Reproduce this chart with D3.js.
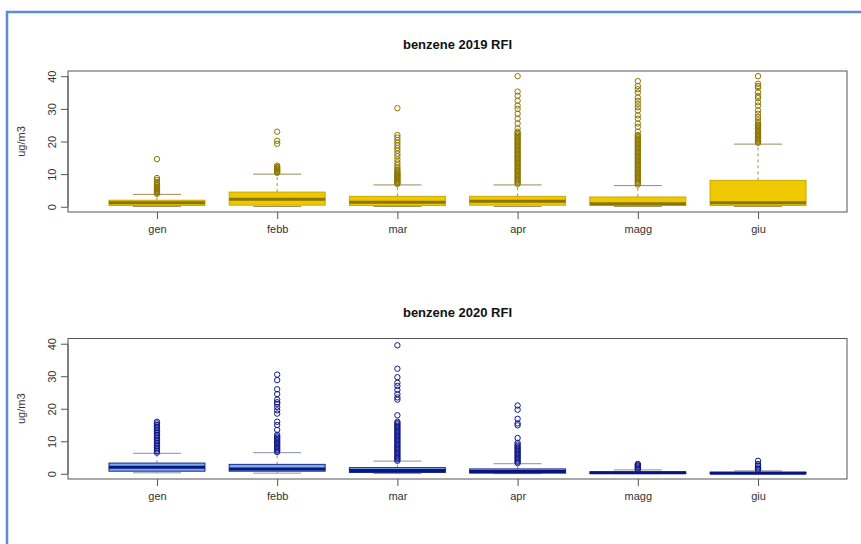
<!DOCTYPE html>
<html>
<head>
<meta charset="utf-8">
<script src="https://cdn.jsdelivr.net/npm/d3@7"></script>
<style>
  body { margin: 0; background: #fff; }
  svg { display: block; font-family: "Liberation Sans", Arial, sans-serif; }
  .axis text { fill: #333; font-size: 11px; }
  .axis path, .axis line { stroke: #555; }
</style>
</head>
<body>
<svg id="chart" width="861" height="544"></svg>
<script>
var months = ["gen", "febb", "mar", "apr", "magg", "giu"];
var yTicks = [0, 10, 20, 30, 40];

// 2019 box stats
var lo2019  = [0.1, 0.1, 0.1, 0.1, 0.1, 0.1];
var q1_2019 = [0.4, 0.5, 0.4, 0.5, 0.4, 0.4];
var med2019 = [1.2, 2.3, 1.4, 1.7, 0.9, 1.2];
var q3_2019 = [2.0, 4.5, 3.2, 3.2, 3.0, 8.1];
var hi2019  = [3.8, 10.0, 6.7, 6.7, 6.5, 19.2];
var out2019 = [
  [4.0, 4.3, 4.6, 4.9, 5.2, 5.5, 5.8, 6.1, 6.5, 7.0, 7.6, 8.2, 8.8, 14.6],
  [10.4, 10.7, 11.0, 11.3, 11.6, 11.9, 12.2, 12.6, 19.3, 20.2, 23.0],
  [7.0, 7.3, 7.6, 7.9, 8.2, 8.5, 8.8, 9.1, 9.4, 9.7, 10.0, 10.3, 10.6, 11.0, 11.4, 12.0, 12.8,
   13.6, 14.5, 15.5, 16.3, 17.2, 18.0, 18.8, 19.6, 20.4, 21.2, 22.0, 30.2],
  [7.0, 7.4, 7.8, 8.2, 8.6, 9.0, 9.4, 9.8, 10.2, 10.6, 11.0, 11.4, 11.8, 12.2, 12.6, 13.0, 13.4,
   13.8, 14.2, 14.6, 15.0, 15.4, 15.8, 16.2, 16.6, 17.0, 17.4, 17.8, 18.2, 18.6, 19.0, 19.4,
   19.8, 20.2, 20.6, 21.0, 21.4, 21.8, 22.2, 22.6, 23.0, 24.0, 25.5, 27.0, 28.5, 30.0, 31.0,
   32.5, 34.0, 35.3, 40.0],
  [6.8, 7.2, 7.6, 8.0, 8.4, 8.8, 9.2, 9.6, 10.0, 10.4, 10.8, 11.2, 11.6, 12.0, 12.4, 12.8, 13.2,
   13.6, 14.0, 14.4, 14.8, 15.2, 15.6, 16.0, 16.4, 16.8, 17.2, 17.6, 18.0, 18.4, 18.8, 19.2,
   19.6, 20.0, 20.4, 20.8, 21.2, 21.6, 22.0, 23.0, 24.5, 25.5, 27.0, 28.0, 29.5, 30.5, 31.5,
   32.5, 33.5, 35.0, 36.0, 37.0, 38.5],
  [19.6, 20.0, 20.4, 20.8, 21.2, 21.6, 22.0, 22.4, 22.8, 23.2, 23.6, 24.0, 24.4, 24.8, 25.2,
   25.7, 26.5, 27.5, 28.5, 29.5, 31.0, 32.0, 33.3, 34.0, 35.1, 36.5, 37.0, 37.7, 40.0]
];

// 2020 box stats
var lo2020  = [0.3, 0.2, 0.1, 0.05, 0.05, 0.05];
var q1_2020 = [0.8, 0.8, 0.4, 0.2, 0.1, 0.1];
var med2020 = [2.0, 1.5, 1.0, 0.7, 0.3, 0.2];
var q3_2020 = [3.3, 2.9, 1.9, 1.5, 0.6, 0.5];
var hi2020  = [6.3, 6.5, 3.9, 3.1, 1.2, 0.9];
var out2020 = [
  [6.5, 7.0, 7.5, 8.0, 8.5, 9.0, 9.5, 10.0, 10.5, 11.0, 11.5, 12.0, 12.5, 13.0, 13.5, 14.0,
   14.5, 15.0, 15.5, 16.0],
  [6.7, 7.1, 7.5, 7.9, 8.3, 8.7, 9.1, 9.5, 9.9, 10.3, 10.7, 11.1, 11.5, 12.0, 13.5, 15.0, 16.0,
   18.5, 19.5, 20.5, 21.5, 22.0, 22.8, 24.5, 26.0, 28.8, 30.5],
  [4.0, 4.4, 4.8, 5.2, 5.6, 6.0, 6.4, 6.8, 7.2, 7.6, 8.0, 8.4, 8.8, 9.2, 9.6, 10.0, 10.4, 10.8,
   11.2, 11.6, 12.0, 12.4, 12.8, 13.2, 13.6, 14.0, 14.4, 14.8, 15.2, 15.6, 16.0, 18.0, 22.8,
   23.5, 24.5, 25.8, 27.0, 28.0, 29.7, 32.3, 39.5],
  [3.3, 3.7, 4.1, 4.5, 4.9, 5.3, 5.7, 6.1, 6.5, 6.9, 7.3, 7.7, 8.1, 8.5, 9.0, 9.5, 11.0, 14.9,
   15.5, 16.9, 19.7, 21.0],
  [1.3, 1.6, 1.9, 2.2, 2.5, 2.8, 3.0],
  [1.2, 1.6, 2.0, 2.5, 3.0, 4.0]
];

var svg = d3.select("#chart");

// blue frame around the screenshot
svg.append("path")
    .attr("d", "M7,544 V12 H861")
    .attr("fill", "none")
    .attr("stroke", "#5b8dd0")
    .attr("stroke-width", 2.5);

var panelLeft = 68, panelRight = 847;

var x = d3.scaleLinear().domain([0.26, 6.74]).range([panelLeft, panelRight]);

function toRows(lo, q1, med, q3, hi, out) {
  return months.map(function (m, i) {
    return { i: i + 1, lo: lo[i], q1: q1[i], med: med[i], q3: q3[i], hi: hi[i], out: out[i] };
  });
}

function drawPanel(title, rows, top, bottom, col) {
  var y = d3.scaleLinear().domain([-1.6, 41.6]).range([bottom, top]);
  var g = svg.append("g");
  var bw = 48, sw = 24;

  g.append("text")
      .attr("x", (panelLeft + panelRight) / 2)
      .attr("y", top - 22)
      .attr("text-anchor", "middle")
      .attr("font-size", "13px")
      .attr("font-weight", "bold")
      .attr("fill", "#111")
      .text(title);

  var box = g.selectAll(".bx").data(rows).enter().append("g").attr("class", "bx");

  // whiskers
  box.append("line")
      .attr("x1", function (d) { return x(d.i); }).attr("x2", function (d) { return x(d.i); })
      .attr("y1", function (d) { return y(d.q3); }).attr("y2", function (d) { return y(d.hi); })
      .attr("stroke", col.whisk).attr("stroke-dasharray", "3,3");
  box.append("line")
      .attr("x1", function (d) { return x(d.i); }).attr("x2", function (d) { return x(d.i); })
      .attr("y1", function (d) { return y(d.q1); }).attr("y2", function (d) { return y(d.lo); })
      .attr("stroke", col.whisk).attr("stroke-dasharray", "3,3");
  // staples
  box.append("line")
      .attr("x1", function (d) { return x(d.i) - sw; }).attr("x2", function (d) { return x(d.i) + sw; })
      .attr("y1", function (d) { return y(d.hi); }).attr("y2", function (d) { return y(d.hi); })
      .attr("stroke", col.whisk);
  box.append("line")
      .attr("x1", function (d) { return x(d.i) - sw; }).attr("x2", function (d) { return x(d.i) + sw; })
      .attr("y1", function (d) { return y(d.lo); }).attr("y2", function (d) { return y(d.lo); })
      .attr("stroke", col.whisk);

  box.append("rect")
      .attr("x", function (d) { return x(d.i) - bw; })
      .attr("width", bw * 2)
      .attr("y", function (d) { return y(d.q3); })
      .attr("height", function (d) { return y(d.q1) - y(d.q3); })
      .attr("fill", col.fill)
      .attr("stroke", col.border);

  box.append("line")
      .attr("x1", function (d) { return x(d.i) - bw; }).attr("x2", function (d) { return x(d.i) + bw; })
      .attr("y1", function (d) { return y(d.med); }).attr("y2", function (d) { return y(d.med); })
      .attr("stroke", col.median).attr("stroke-width", 3);

  box.selectAll("circle")
      .data(function (d) { return d.out.map(function (v) { return { i: d.i, v: v }; }); })
      .enter().append("circle")
      .attr("cx", function (d) { return x(d.i); })
      .attr("cy", function (d) { return y(d.v); })
      .attr("r", 2.7)
      .attr("fill", "none")
      .attr("stroke", col.point)
      .attr("stroke-width", 1);

  // frame
  g.append("rect")
      .attr("x", panelLeft).attr("y", top)
      .attr("width", panelRight - panelLeft).attr("height", bottom - top)
      .attr("fill", "none").attr("stroke", "#555");

  var xa = g.append("g").attr("class", "axis")
      .attr("transform", "translate(0," + bottom + ")")
      .call(d3.axisBottom(x).tickValues([1, 2, 3, 4, 5, 6])
          .tickFormat(function (d) { return months[d - 1]; }).tickSize(7).tickPadding(6));
  xa.select(".domain").remove();

  var ya = g.append("g").attr("class", "axis")
      .attr("transform", "translate(" + panelLeft + ",0)")
      .call(d3.axisLeft(y).tickValues(yTicks).tickSize(7));
  ya.select(".domain").remove();
  ya.append("line").attr("x1", 0).attr("x2", 0).attr("y1", y(0)).attr("y2", y(40)).attr("stroke", "#555");
  ya.selectAll(".tick text")
      .attr("x", 0).attr("dy", 0)
      .attr("text-anchor", "middle")
      .attr("transform", "translate(-12,0) rotate(-90)");

  g.append("text")
      .attr("transform", "translate(25," + ((top + bottom) / 2) + ") rotate(-90)")
      .attr("text-anchor", "middle")
      .attr("font-size", "11px")
      .attr("fill", "#333")
      .text("ug/m3");
}

drawPanel("benzene 2019 RFI", toRows(lo2019, q1_2019, med2019, q3_2019, hi2019, out2019), 71, 212,
  { fill: "#eec900", border: "#c9a800", median: "#8b7500", whisk: "#9c8c55", point: "#8b7500" });

drawPanel("benzene 2020 RFI", toRows(lo2020, q1_2020, med2020, q3_2020, hi2020, out2020), 338.5, 479,
  { fill: "#78aee6", border: "#1c2a8a", median: "#0a1480", whisk: "#8a8fa8", point: "#10188a" });
</script>
</body>
</html>
